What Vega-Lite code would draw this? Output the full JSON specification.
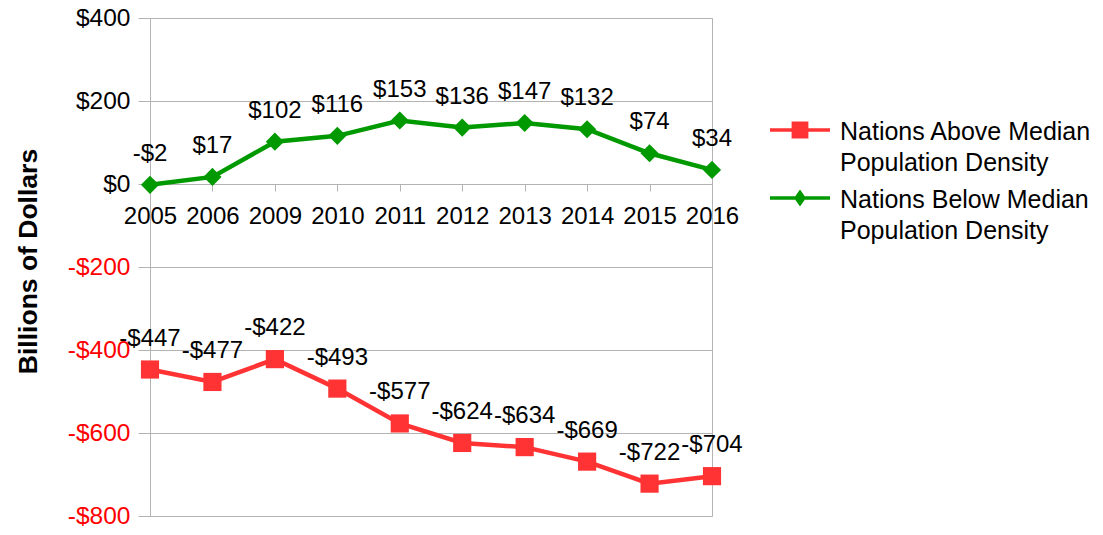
{
  "$schema": "https://vega.github.io/schema/vega-lite/v6.json",
  "autosize": "none",
  "width": 562,
  "height": 498,
  "padding": {"left": 150, "top": 18, "right": 391, "bottom": 19},
  "background": "white",
  "config": {
    "font": "Liberation Sans",
    "view": {"stroke": "#b3b3b3", "strokeWidth": 1},
    "locale": {"number": {"decimal": ".", "thousands": ",", "grouping": [3], "currency": ["$", ""], "minus": "-"}},
    "legend": {
      "title": null, "orient": "none", "legendX": 620,
      "symbolSize": 3600, "symbolStrokeWidth": 0,
      "labelFontSize": 25, "labelFont": "Liberation Sans", "labelColor": "black",
      "labelLimit": 400, "labelOffset": 10, "rowPadding": 0,
      "labelBaseline": "middle"
    }
  },
  "data": {
    "values": [
      {"year": "2005", "series": "Nations Above Median Population Density", "value": -447},
      {"year": "2006", "series": "Nations Above Median Population Density", "value": -477},
      {"year": "2009", "series": "Nations Above Median Population Density", "value": -422},
      {"year": "2010", "series": "Nations Above Median Population Density", "value": -493},
      {"year": "2011", "series": "Nations Above Median Population Density", "value": -577},
      {"year": "2012", "series": "Nations Above Median Population Density", "value": -624},
      {"year": "2013", "series": "Nations Above Median Population Density", "value": -634},
      {"year": "2014", "series": "Nations Above Median Population Density", "value": -669},
      {"year": "2015", "series": "Nations Above Median Population Density", "value": -722},
      {"year": "2016", "series": "Nations Above Median Population Density", "value": -704},
      {"year": "2005", "series": "Nations Below Median Population Density", "value": -2},
      {"year": "2006", "series": "Nations Below Median Population Density", "value": 17},
      {"year": "2009", "series": "Nations Below Median Population Density", "value": 102},
      {"year": "2010", "series": "Nations Below Median Population Density", "value": 116},
      {"year": "2011", "series": "Nations Below Median Population Density", "value": 153},
      {"year": "2012", "series": "Nations Below Median Population Density", "value": 136},
      {"year": "2013", "series": "Nations Below Median Population Density", "value": 147},
      {"year": "2014", "series": "Nations Below Median Population Density", "value": 132},
      {"year": "2015", "series": "Nations Below Median Population Density", "value": 74},
      {"year": "2016", "series": "Nations Below Median Population Density", "value": 34}
    ]
  },
  "encoding": {
    "x": {
      "field": "year", "type": "ordinal",
      "scale": {"type": "point", "padding": 0},
      "axis": {
        "title": null, "offset": -332, "labelAngle": 0,
        "domainColor": "#b3b3b3", "tickColor": "#b3b3b3", "tickSize": 7,
        "labelFontSize": 24, "labelColor": "black", "labelPadding": 13,
        "labelFont": "Liberation Sans", "grid": false
      }
    },
    "y": {
      "field": "value", "type": "quantitative",
      "scale": {"domain": [-800, 400], "nice": false},
      "axis": {
        "values": [-800, -600, -400, -200, 0, 200, 400],
        "format": "$.0f",
        "title": "Billions of Dollars",
        "titleFont": "Liberation Sans", "titleFontSize": 26.5, "titleFontWeight": "bold",
        "titleColor": "black", "titleX": -122, "titleY": 243, "titleAngle": -90,
        "titleAlign": "center", "titleBaseline": "middle",
        "labelFontSize": 24.5, "labelPadding": 8,
        "labelColor": {"condition": {"test": "datum.value < 0", "value": "#ff0000"}, "value": "black"},
        "domainColor": "#b3b3b3", "tickColor": "#b3b3b3", "tickSize": 12,
        "gridColor": "#b3b3b3", "gridWidth": 1
      }
    }
  },
  "layer": [
    {
      "mark": {"type": "line", "strokeWidth": 4.5},
      "encoding": {
        "color": {"field": "series", "type": "nominal",
          "scale": {"domain": ["Nations Above Median Population Density", "Nations Below Median Population Density"], "range": ["#ff3333", "#009900"]},
          "legend": null}
      }
    },
    {
      "mark": {"type": "point", "filled": true, "opacity": 1, "size": 330},
      "encoding": {
        "color": {"field": "series", "type": "nominal",
          "scale": {"domain": ["Nations Above Median Population Density", "Nations Below Median Population Density"], "range": ["#ff3333", "#009900"]},
          "legend": null},
        "shape": {"field": "series", "type": "nominal",
          "scale": {"domain": ["Nations Above Median Population Density", "Nations Below Median Population Density"], "range": ["square", "diamond"]},
          "legend": null}
      }
    },
    {
      "mark": {"type": "text", "fontSize": 24, "color": "black", "baseline": "middle", "dy": -31, "font": "Liberation Sans"},
      "encoding": {
        "text": {"field": "value", "type": "quantitative", "format": "$.0f"}
      }
    },
    {
      "mark": {"type": "point", "filled": true, "opacity": 0, "size": 10},
      "encoding": {
        "color": {"field": "series", "type": "nominal",
          "scale": {"domain": ["Nations Above Median Population Density", "Nations Below Median Population Density"], "range": ["#ff3333", "#009900"]},
          "legend": {
            "legendY": 82,
            "values": ["Nations Above Median Population Density"],
            "labelExpr": "[slice(datum.label, 0, 20), slice(datum.label, 21)]",
            "encode": {
              "symbols": {"update": {"opacity": {"value": 1}, "fillOpacity": {"value": 1}}},
              "labels": {"update": {"dy": {"value": 2}, "lineHeight": {"value": 31}}}
            }
          }},
        "shape": {"field": "series", "type": "nominal",
          "scale": {"domain": ["Nations Above Median Population Density", "Nations Below Median Population Density"],
            "range": ["M-1,-0.06H1V0.06H-1Z M-0.28,-0.28H0.28V0.28H-0.28Z", "M-1,-0.06H1V0.06H-1Z M0,-0.28L0.2,0L0,0.28L-0.2,0Z"]},
          "legend": {
            "legendY": 82,
            "values": ["Nations Above Median Population Density"],
            "labelExpr": "[slice(datum.label, 0, 20), slice(datum.label, 21)]",
            "encode": {
              "symbols": {"update": {"opacity": {"value": 1}, "fillOpacity": {"value": 1}}},
              "labels": {"update": {"dy": {"value": 2}, "lineHeight": {"value": 31}}}
            }
          }}
      }
    },
    {
      "mark": {"type": "point", "filled": true, "opacity": 0, "size": 10},
      "encoding": {
        "color": {"field": "series", "type": "nominal",
          "scale": {"domain": ["Nations Above Median Population Density", "Nations Below Median Population Density"], "range": ["#ff3333", "#009900"]},
          "legend": {
            "legendY": 150,
            "values": ["Nations Below Median Population Density"],
            "labelExpr": "[slice(datum.label, 0, 20), slice(datum.label, 21)]",
            "encode": {
              "symbols": {"update": {"opacity": {"value": 1}, "fillOpacity": {"value": 1}}},
              "labels": {"update": {"dy": {"value": 2}, "lineHeight": {"value": 31}}}
            }
          }},
        "shape": {"field": "series", "type": "nominal",
          "scale": {"domain": ["Nations Above Median Population Density", "Nations Below Median Population Density"],
            "range": ["M-1,-0.06H1V0.06H-1Z M-0.28,-0.28H0.28V0.28H-0.28Z", "M-1,-0.06H1V0.06H-1Z M0,-0.28L0.2,0L0,0.28L-0.2,0Z"]},
          "legend": {
            "legendY": 150,
            "values": ["Nations Below Median Population Density"],
            "labelExpr": "[slice(datum.label, 0, 20), slice(datum.label, 21)]",
            "encode": {
              "symbols": {"update": {"opacity": {"value": 1}, "fillOpacity": {"value": 1}}},
              "labels": {"update": {"dy": {"value": 2}, "lineHeight": {"value": 31}}}
            }
          }}
      }
    }
  ],
  "resolve": {"scale": {"color": "independent", "shape": "independent"}}
}
